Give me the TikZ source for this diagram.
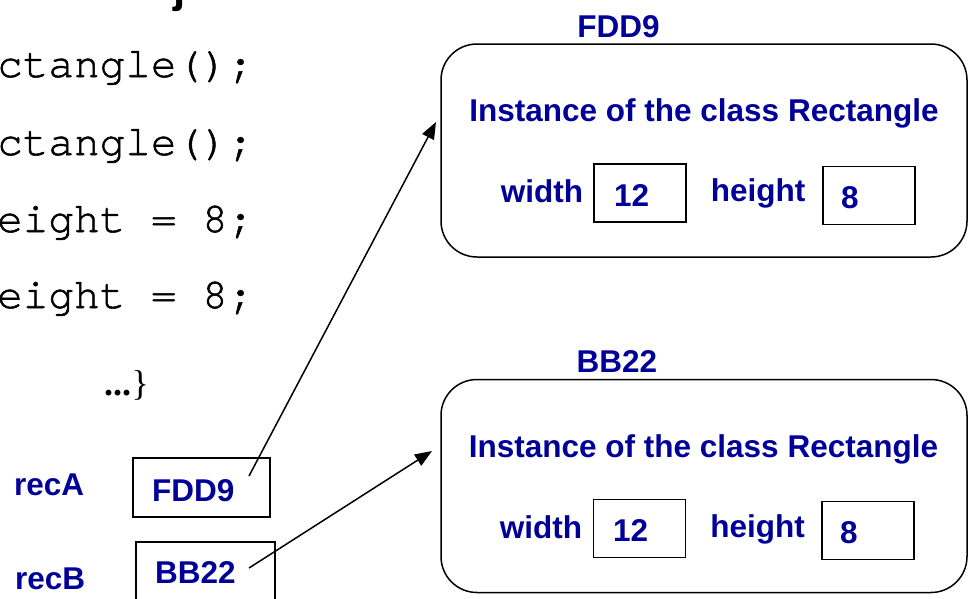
\documentclass[tikz,border=0pt]{standalone}
\usepackage{fontspec}
\setmainfont{Liberation Sans}
\newfontfamily\lsans{Liberation Sans}
\newfontfamily\lmono[FakeBold=1.2]{TeX Gyre Cursor}
\newfontfamily\lserif{Liberation Serif}
\usetikzlibrary{arrows.meta}
\definecolor{labblue}{RGB}{0,0,153}
\tikzset{
  lab/.style={text=labblue, font=\lsans\bfseries\fontsize{31.5}{36}\selectfont, inner sep=0pt, anchor=base},
  code/.style={text=black, font=\lmono\fontsize{42.7}{48}\selectfont, inner sep=0pt, anchor=base west},
  objbox/.style={draw, line width=1.5pt, rounded corners=36pt, inner sep=0pt},
  cellbox/.style={draw, line width=1.5pt, inner sep=0pt},
  ptr/.style={line width=1.5pt, -{Triangle[length=17pt,width=13pt]}, shorten >=0pt}
}
\begin{document}
\begin{tikzpicture}[x=1pt,y=-1pt]
\useasboundingbox (0,0) rectangle (969,598);
% partial title letter
\node[inner sep=0pt, anchor=base west, font=\lsans\bfseries\fontsize{44}{50}\selectfont] (ttl) at (173,2) {j};
% code lines (visible part)
\node[code] (c1) at (-3,77) {ctangle();};
\node[code] (c2) at (-3,155) {ctangle();};
\node[code] (c3) at (-3,232) {eight = 8;};
\node[code] (c4) at (-3,308) {eight = 8;};
\node[inner sep=0pt, anchor=base west, font=\lserif\bfseries\fontsize{36}{40}\selectfont] (dots) at (104,395) {...};
\node[inner sep=0pt, anchor=base west, font=\lserif\fontsize{36}{40}\selectfont] (brc) at (dots.base east) {\}};
% object A
\node[lab] (tA) at (618.5,37) {FDD9};
\node[objbox, minimum width=526pt, minimum height=213pt] (objA) at (704,150.5) {};
\node[lab] (iA) at (704,121) {Instance of the class Rectangle};
\node[lab] (wA) at (542,202) {width};
\node[cellbox, minimum width=92pt, minimum height=58pt] (wboxA) at (640,193) {};
\node[lab, anchor=base west] (wvA) at (614,206) {12};
\node[lab] (hA) at (758,201) {height};
\node[cellbox, minimum width=92pt, minimum height=58pt] (hboxA) at (869,195.5) {};
\node[lab, anchor=base west] (hvA) at (841,208) {8};
% object B
\node[lab] (tB) at (617,372) {BB22};
\node[objbox, minimum width=526pt, minimum height=213pt] (objB) at (704,486) {};
\node[lab] (iB) at (703.5,457) {Instance of the class Rectangle};
\node[lab] (wB) at (541,538) {width};
\node[cellbox, minimum width=92pt, minimum height=58pt] (wboxB) at (639.5,528.5) {};
\node[lab, anchor=base west] (wvB) at (613,541) {12};
\node[lab] (hB) at (757.5,537) {height};
\node[cellbox, minimum width=92pt, minimum height=58pt] (hboxB) at (868,530.5) {};
\node[lab, anchor=base west] (hvB) at (840,543) {8};
% variables
\node[lab, anchor=base west] (vA) at (14,495) {recA};
\node[cellbox, minimum width=137pt, minimum height=59pt] (pA) at (201.5,487.5) {};
\node[lab, anchor=base west] (pvA) at (152,501) {FDD9};
\node[lab, anchor=base west] (vB) at (15,589) {recB};
\node[cellbox, minimum width=139pt, minimum height=60pt] (pB) at (205.5,572) {};
\node[lab, anchor=base west] (pvB) at (155,583) {BB22};
% pointers
\coordinate (sA) at (249,476);
\coordinate (eA) at (436,122);
\coordinate (sB) at (249,568);
\coordinate (eB) at (432,451);
\draw[ptr] (sA) -- (eA);
\draw[ptr] (sB) -- (eB);
\end{tikzpicture}
\end{document}
